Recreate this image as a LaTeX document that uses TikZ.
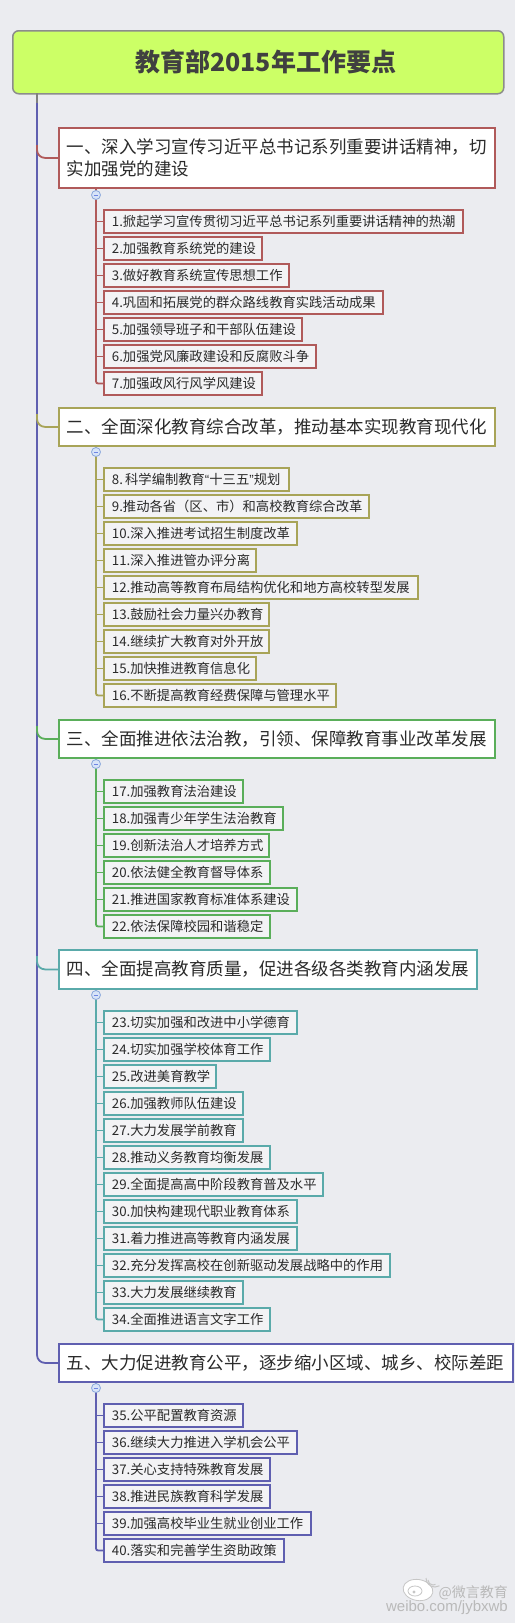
\documentclass[tikz,border=0pt]{standalone}
\usepackage{fontspec}
\setmainfont{Noto Sans CJK SC}
\newfontfamily\wmfont{Liberation Sans}
\usetikzlibrary{calc}
\definecolor{bgc}{HTML}{EBECF0}
\definecolor{rootfill}{HTML}{CCFF66}
\definecolor{ca}{HTML}{B05A5A}
\definecolor{cb}{HTML}{A8A458}
\definecolor{cc}{HTML}{5AAE5A}
\definecolor{cd}{HTML}{5AAAAA}
\definecolor{ce}{HTML}{5F5FB0}
\definecolor{leaffill}{HTML}{F3F3F5}
\definecolor{txt}{HTML}{2A2A2A}
\definecolor{foldfill}{HTML}{D8E4F8}
\definecolor{folddraw}{HTML}{8AA8DC}
\tikzset{
 rootbox/.style={draw=gray!90, line width=1.5pt, fill=rootfill, rounded corners=6pt, inner sep=0pt, anchor=north west, minimum width=491pt, minimum height=63pt, font=\fontsize{25}{30}\selectfont\bfseries, text=black!75},
 secbox/.style={draw=#1, line width=1.8pt, fill=white, anchor=north west, inner xsep=8pt, inner ysep=0pt, align=left, font=\fontsize{17.5}{22}\selectfont, text=txt},
 leafbox/.style={draw=#1, line width=1.8pt, fill=leaffill, anchor=north west, inner xsep=8pt, inner ysep=0pt, minimum height=23pt, align=left, font=\fontsize{13.3}{16}\selectfont, text=txt},
 link/.style={draw=#1, line width=1.8pt},
 fold/.style={circle, draw=folddraw, fill=foldfill, line width=0.8pt, minimum size=9pt, inner sep=0pt,
   path picture={\draw[folddraw!80!blue, line width=0.9pt] ([xshift=2.2pt]path picture bounding box.west) -- ([xshift=-2.2pt]path picture bounding box.east);}},
 wm/.style={text=gray!55, inner sep=0pt}
}
\begin{document}
\begin{tikzpicture}[x=1pt,y=-1pt]
\fill[bgc] (0,0) rectangle (515,1623);
\useasboundingbox (0,0) rectangle (515,1623);

% root
\node[rootbox] (root) at (12,30) {\hspace*{15pt}教育部2015年工作要点};

% trunk
\coordinate (tr0) at (37,93);
\coordinate (tr1) at (37,103);
\coordinate (ta) at (37,145);
\coordinate (tb) at (37,414);
\coordinate (tc) at (37,726);
\coordinate (td) at (37,956);

% sections
\node[secbox=ca, text width=420pt, minimum height=60pt] (sa) at (58,127) {一、深入学习宣传习近平总书记系列重要讲话精神，切\\实加强党的建设};
\node[secbox=cb, text width=420pt, minimum height=38pt] (sb) at (58,407) {二、全面深化教育综合改革，推动基本实现教育现代化};
\node[secbox=cc, text width=420pt, minimum height=38pt] (sc) at (58,719) {三、全面推进依法治教，引领、保障教育事业改革发展};
\node[secbox=cd, text width=402pt, minimum height=39pt] (sd) at (58,949) {四、全面提高教育质量，促进各级各类教育内涵发展};
\node[secbox=ce, text width=438pt, minimum height=38pt] (se) at (58,1343) {五、大力促进教育公平，逐步缩小区域、城乡、校际差距};

\draw[link=gray] (tr0) -- (tr1);
\draw[link=ce, rounded corners=8pt] (tr1) |- (se.west);
\draw[link=ca, rounded corners=8pt] (ta) |- (sa.west);
\draw[link=cb, rounded corners=8pt] (tb) |- (sb.west);
\draw[link=cc, rounded corners=8pt] (tc) |- (sc.west);
\draw[link=cd, rounded corners=8pt] (td) |- (sd.west);

% child bus start points
\coordinate (ba) at (96,187);
\coordinate (bb) at (96,445);
\coordinate (bc) at (96,757);
\coordinate (bd) at (96,988);
\coordinate (be) at (96,1381);

% section 1
\foreach \n/\r/\t [count=\k from 0] in {
 1/462/1.掀起学习宣传贯彻习近平总书记系列重要讲话精神的热潮,
 2/261/2.加强教育系统党的建设,
 3/288/3.做好教育系统宣传思想工作,
 4/382/4.巩固和拓展党的群众路线教育实践活动成果,
 5/301/5.加强领导班子和干部队伍建设,
 6/315/6.加强党风廉政建设和反腐败斗争,
 7/261/7.加强政风行风学风建设}{
 \pgfmathsetmacro\tw{\r-119}
 \pgfmathsetmacro\yy{209+27*\k}
 \node[leafbox=ca, text width=\tw pt] (c\n) at (103,\yy) {\t};
 \draw[link=ca] (c\n.west -| ba) -- (c\n.west);
}
\draw[link=ca, rounded corners=2pt] (ba) |- (c7.west);
\node[fold] (fa) at (96,195) {};

% section 2
\foreach \n/\r/\t [count=\k from 0] in {
 8/288/{8.\,科学编制教育{\wmfont“}十三五{\wmfont”}规划},
 9/368/9.推动各省（区、市）和高校教育综合改革,
 10/296/10.深入推进考试招生制度改革,
 11/255/11.深入推进管办评分离,
 12/417/12.推动高等教育布局结构优化和地方高校转型发展,
 13/268/13.鼓励社会力量兴办教育,
 14/268/14.继续扩大教育对外开放,
 15/255/15.加快推进教育信息化,
 16/335/16.不断提高教育经费保障与管理水平}{
 \pgfmathsetmacro\tw{\r-119}
 \pgfmathsetmacro\yy{467+27*\k}
 \node[leafbox=cb, text width=\tw pt] (c\n) at (103,\yy) {\t};
 \draw[link=cb] (c\n.west -| bb) -- (c\n.west);
}
\draw[link=cb, rounded corners=2pt] (bb) |- (c16.west);
\node[fold] (fb) at (96,452) {};

% section 3
\foreach \n/\r/\t [count=\k from 0] in {
 17/242/17.加强教育法治建设,
 18/282/18.加强青少年学生法治教育,
 19/268/19.创新法治人才培养方式,
 20/269/20.依法健全教育督导体系,
 21/296/21.推进国家教育标准体系建设,
 22/269/22.依法保障校园和谐稳定}{
 \pgfmathsetmacro\tw{\r-119}
 \pgfmathsetmacro\yy{779+27*\k}
 \node[leafbox=cc, text width=\tw pt] (c\n) at (103,\yy) {\t};
 \draw[link=cc] (c\n.west -| bc) -- (c\n.west);
}
\draw[link=cc, rounded corners=2pt] (bc) |- (c22.west);
\node[fold] (fc) at (96,764) {};

% section 4
\foreach \n/\r/\t [count=\k from 0] in {
 23/296/23.切实加强和改进中小学德育,
 24/269/24.切实加强学校体育工作,
 25/215/25.改进美育教学,
 26/242/26.加强教师队伍建设,
 27/242/27.大力发展学前教育,
 28/269/28.推动义务教育均衡发展,
 29/322/29.全面提高高中阶段教育普及水平,
 30/296/30.加快构建现代职业教育体系,
 31/296/31.着力推进高等教育内涵发展,
 32/389/32.充分发挥高校在创新驱动发展战略中的作用,
 33/242/33.大力发展继续教育,
 34/269/34.全面推进语言文字工作}{
 \pgfmathsetmacro\tw{\r-119}
 \pgfmathsetmacro\yy{1010+27*\k}
 \node[leafbox=cd, text width=\tw pt] (c\n) at (103,\yy) {\t};
 \draw[link=cd] (c\n.west -| bd) -- (c\n.west);
}
\draw[link=cd, rounded corners=2pt] (bd) |- (c34.west);
\node[fold] (fd) at (96,995) {};

% section 5
\foreach \n/\r/\t [count=\k from 0] in {
 35/242/35.公平配置教育资源,
 36/296/36.继续大力推进入学机会公平,
 37/269/37.关心支持特殊教育发展,
 38/269/38.推进民族教育科学发展,
 39/310/39.加强高校毕业生就业创业工作,
 40/283/40.落实和完善学生资助政策}{
 \pgfmathsetmacro\tw{\r-119}
 \pgfmathsetmacro\yy{1403+27*\k}
 \node[leafbox=ce, text width=\tw pt] (c\n) at (103,\yy) {\t};
 \draw[link=ce] (c\n.west -| be) -- (c\n.west);
}
\draw[link=ce, rounded corners=2pt] (be) |- (c40.west);
\node[fold] (fe) at (96,1388) {};

% watermark
\draw[gray!45, fill=white, line width=0.8pt, rotate around={-10:(418,1590)}] (418,1590) ellipse (15 and 10.5);
\draw[gray!45, line width=0.8pt] (415,1591) ellipse (7 and 5);
\fill[gray!45] (414,1592) circle (1.6);
\draw[gray!45, line width=1pt] (428,1580) arc (180:60:5);
\draw[gray!45, line width=1pt] (426,1578) arc (180:60:9);
\node[wm, anchor=east, font=\fontsize{14}{16}\selectfont] (wm1) at (508,1593) {@微言教育};
\node[wm, anchor=east, font=\wmfont\fontsize{15}{17}\selectfont] (wm2) at (508,1608) {weibo.com/jybxwb};
\end{tikzpicture}
\end{document}
